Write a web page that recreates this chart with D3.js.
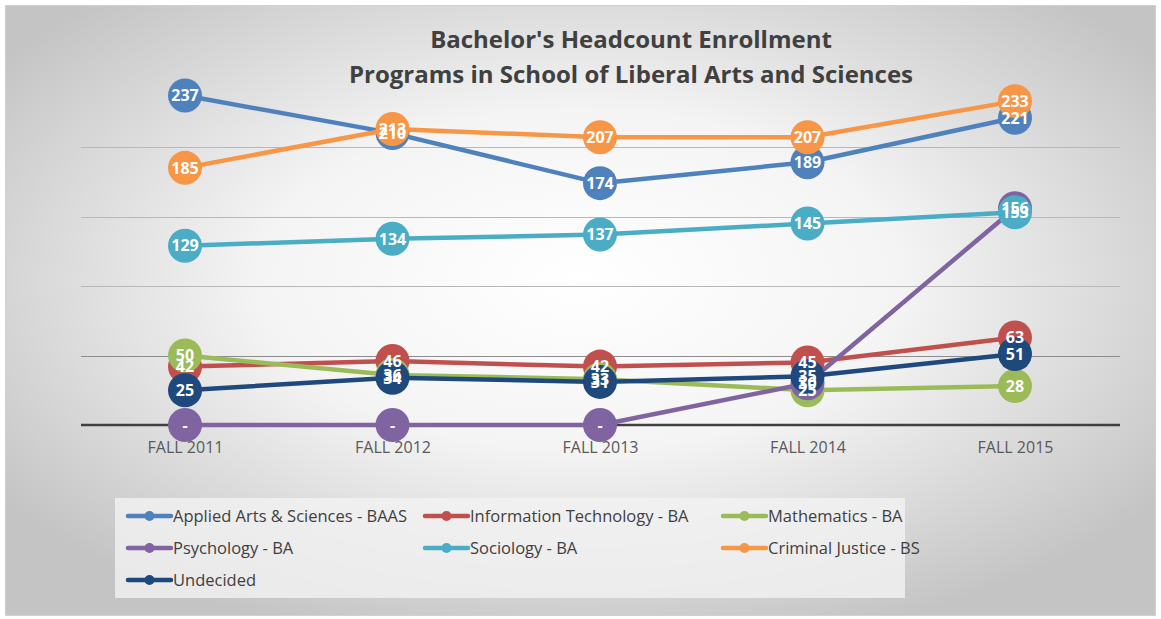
<!DOCTYPE html>
<html>
<head>
<meta charset="utf-8">
<script src="https://cdn.jsdelivr.net/npm/d3@7"></script>
<style>
  body { margin: 0; background: #fff; }
  svg text { font-family: "Open Sans", "Noto Sans", sans-serif; }
</style>
</head>
<body>
<div id="chart"></div>
<script>
var years = ['FALL 2011', 'FALL 2012', 'FALL 2013', 'FALL 2014', 'FALL 2015'];

var seriesNames = [
    'Applied Arts & Sciences - BAAS',
    'Information Technology - BA',
    'Mathematics - BA',
    'Psychology - BA',
    'Sociology - BA',
    'Criminal Justice - BS',
    'Undecided'
];
var seriesColors = ['#4f81bd', '#c0504d', '#9bbb59', '#8064a2', '#4bacc6', '#f79646', '#1f497d'];

var appliedArts = [237, 210, 174, 189, 221];
var infoTech = [42, 46, 42, 45, 63];
var mathematics = [50, 36, 33, 25, 28];
var psychology = [0, 0, 0, 30, 156];
var sociology = [129, 134, 137, 145, 153];
var criminalJustice = [185, 213, 207, 207, 233];
var undecided = [25, 34, 31, 35, 51];

var gridTicks = [50, 100, 150, 200];

var seriesValues = [appliedArts, infoTech, mathematics, psychology, sociology, criminalJustice, undecided];

var width = 1161, height = 619;
var plot = {left: 81, right: 1120, top: 77.5, bottom: 425};

var svg = d3.select('#chart').append('svg')
    .attr('width', width)
    .attr('height', height);

var defs = svg.append('defs');
var grad = defs.append('radialGradient')
    .attr('id', 'bg')
    .attr('cx', '50%').attr('cy', '45%').attr('r', '62%');
grad.append('stop').attr('offset', '0%').attr('stop-color', '#ffffff');
grad.append('stop').attr('offset', '45%').attr('stop-color', '#f4f4f4');
grad.append('stop').attr('offset', '100%').attr('stop-color', '#c4c4c4');

svg.append('rect')
    .attr('x', 5.5).attr('y', 5.5)
    .attr('width', 1150).attr('height', 610)
    .attr('fill', 'url(#bg)')
    .attr('stroke', '#d0d0d0');

// title
var title = svg.append('text')
    .attr('text-anchor', 'middle')
    .attr('font-weight', 'bold')
    .attr('font-size', 24)
    .attr('fill', '#404040');
title.append('tspan').attr('x', 631).attr('y', 48).text("Bachelor's Headcount Enrollment");
title.append('tspan').attr('x', 631).attr('y', 83).text('Programs in School of Liberal Arts and Sciences');

var x = d3.scalePoint()
    .domain(years)
    .range([185, 1015]);

var y = d3.scaleLinear()
    .domain([0, 250])
    .range([plot.bottom, plot.top]);

// gridlines
svg.append('g')
    .selectAll('line')
    .data(gridTicks)
    .enter()
    .append('line')
    .attr('x1', plot.left).attr('x2', plot.right)
    .attr('y1', function(d){ return Math.round(y(d)) + 0.5; })
    .attr('y2', function(d){ return Math.round(y(d)) + 0.5; })
    .attr('stroke', function(d){ return d === 50 ? '#8c8c8c' : '#b8b8b8'; })
    .attr('stroke-width', 1);

// x axis
var xAxis = svg.append('g')
    .attr('transform', 'translate(0,' + plot.bottom + ')')
    .call(d3.axisBottom(x).tickSize(0).tickPadding(17));
xAxis.select('.domain').remove();
xAxis.append('line')
    .attr('x1', plot.left).attr('x2', plot.right)
    .attr('stroke', '#404040').attr('stroke-width', 2.5);
xAxis.selectAll('text')
    .attr('font-size', 16)
    .attr('fill', '#595959')
    .style('font-family', '"Open Sans", sans-serif');

var line = d3.line()
    .x(function(d, i){ return x(years[i]); })
    .y(function(d){ return y(d); });

// series: line + markers
seriesValues.forEach(function(vals, s){
    var g = svg.append('g');
    g.append('path')
        .datum(vals)
        .attr('d', line)
        .attr('fill', 'none')
        .attr('stroke', seriesColors[s])
        .attr('stroke-width', 4.5)
        .attr('stroke-linejoin', 'round');
    g.selectAll('circle')
        .data(vals)
        .enter()
        .append('circle')
        .attr('cx', function(d, i){ return x(years[i]); })
        .attr('cy', function(d){ return y(d); })
        .attr('r', 17)
        .attr('fill', seriesColors[s]);
});

// data labels
seriesValues.forEach(function(vals, s){
    svg.append('g')
        .selectAll('text')
        .data(vals)
        .enter()
        .append('text')
        .attr('x', function(d, i){ return x(years[i]); })
        .attr('y', function(d){ return y(d); })
        .attr('dy', '0.36em')
        .attr('text-anchor', 'middle')
        .attr('font-size', 16)
        .attr('font-weight', 'bold')
        .attr('fill', '#ffffff')
        .text(function(d){ return d === 0 ? '-' : d; });
});

// legend
var legend = svg.append('g');
legend.append('rect')
    .attr('x', 115).attr('y', 498)
    .attr('width', 790).attr('height', 100)
    .attr('fill', '#f2f2f2')
    .attr('opacity', 0.8);

var legendCols = [128, 425, 723];
var legendRows = [516, 548, 580];

var items = legend.selectAll('g.item')
    .data(seriesNames)
    .enter()
    .append('g')
    .attr('class', 'item')
    .attr('transform', function(d, i){
        return 'translate(' + legendCols[i % 3] + ',' + legendRows[Math.floor(i / 3)] + ')';
    });
items.append('line')
    .attr('x1', 0).attr('x2', 43)
    .attr('stroke', function(d, i){ return seriesColors[i]; })
    .attr('stroke-width', 4.5)
    .attr('stroke-linecap', 'round');
items.append('circle')
    .attr('cx', 21.5).attr('r', 5)
    .attr('fill', function(d, i){ return seriesColors[i]; });
items.append('text')
    .attr('x', 45)
    .attr('dy', '0.35em')
    .attr('font-size', 16.5)
    .attr('fill', '#404040')
    .text(function(d){ return d; });
</script>
</body>
</html>
